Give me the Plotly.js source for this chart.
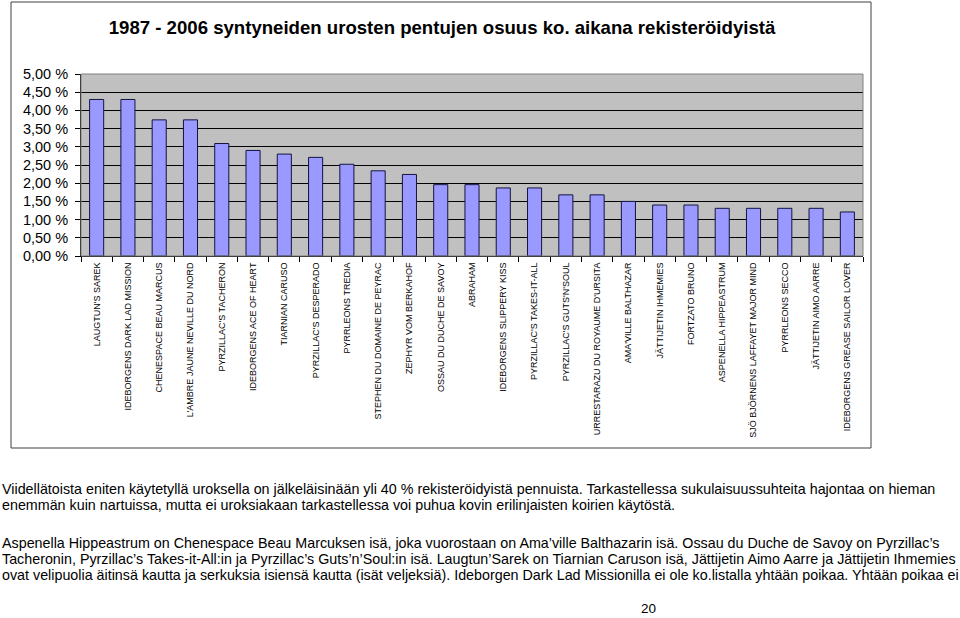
<!DOCTYPE html>
<html>
<head>
<meta charset="utf-8">
<script src="https://cdn.plot.ly/plotly-3.0.1.min.js"></script>
<style>html,body{margin:0;padding:0;background:#fff;}#chart{width:960px;height:618px;}</style>
</head>
<body>
<div id="chart"></div>
<script>
const titleText = "1987 - 2006 syntyneiden urosten pentujen osuus ko. aikana rekisteröidyistä";
const sires = [
  "LAUGTUN'S SAREK", "IDEBORGENS DARK LAD MISSION", "CHENESPACE BEAU MARCUS",
  "L'AMBRE JAUNE NEVILLE DU NORD", "PYRZILLAC'S TACHERON", "IDEBORGENS ACE OF HEART",
  "TIARNIAN CARUSO", "PYRZILLAC'S DESPERADO", "PYRRLEONS TREDIA",
  "STEPHEN DU DOMAINE DE PEYRAC", "ZEPHYR VOM BERKAHOF", "OSSAU DU DUCHE DE SAVOY",
  "ABRAHAM", "IDEBORGENS SLIPPERY KISS", "PYRZILLAC'S TAKES-IT-ALL",
  "PYRZILLAC'S GUTS'N'SOUL", "URRESTARAZU DU ROYAUME D'URSITA", "AMA'VILLE BALTHAZAR",
  "JÄTTIJETIN IHMEMIES", "FORTZATO BRUNO", "ASPENELLA HIPPEASTRUM",
  "SJÖ BJÖRNENS LAFFAYET MAJOR MIND", "PYRRLEONS SECCO", "JÄTTIJETIN AIMO AARRE",
  "IDEBORGENS GREASE SAILOR LOVER"
];
const sharePct = [
  4.30, 4.30, 3.74, 3.74, 3.09, 2.90, 2.80, 2.71, 2.52,
  2.34, 2.24, 1.96, 1.96, 1.87, 1.87, 1.68, 1.68, 1.50,
  1.40, 1.40, 1.31, 1.31, 1.31, 1.31, 1.21
];
const yTickVals = [0, 0.5, 1, 1.5, 2, 2.5, 3, 3.5, 4, 4.5, 5];
const yTickText = ["0,00 %", "0,50 %", "1,00 %", "1,50 %", "2,00 %", "2,50 %", "3,00 %", "3,50 %", "4,00 %", "4,50 %", "5,00 %"];
const bodyLines = [
  "Viidellätoista eniten käytetyllä uroksella on jälkeläisinään yli 40 % rekisteröidyistä pennuista. Tarkastellessa sukulaisuussuhteita hajontaa on hieman",
  "enemmän kuin nartuissa, mutta ei uroksiakaan tarkastellessa voi puhua kovin erilinjaisten koirien käytöstä.",
  "Aspenella Hippeastrum on Chenespace Beau Marcuksen isä, joka vuorostaan on Ama’ville Balthazarin isä. Ossau du Duche de Savoy on Pyrzillac’s",
  "Tacheronin, Pyrzillac’s Takes-it-All:in ja Pyrzillac’s Guts’n’Soul:in isä. Laugtun’Sarek on Tiarnian Caruson isä, Jättijetin Aimo Aarre ja Jättijetin Ihmemies",
  "ovat velipuolia äitinsä kautta ja serkuksia isiensä kautta (isät veljeksiä). Ideborgen Dark Lad Missionilla ei ole ko.listalla yhtään poikaa. Yhtään poikaa ei"
];
const pageNumber = "20";

// pixel geometry of plot area
const PL = 81, PR = 863, PT = 74, PB = 256;
const px2x = p => (p - PL) / (PR - PL);
const px2y = p => (PB - p) / (PB - PT);
const lineY = [489, 505, 543, 559, 575];
const FONT = 'Liberation Sans, Arial, sans-serif';

const annotations = bodyLines.map((t, i) => ({
  text: t, xref: 'paper', yref: 'paper', x: px2x(0), y: px2y(lineY[i]),
  xanchor: 'left', yanchor: 'middle', showarrow: false,
  font: {family: FONT, size: 14.3, color: '#000'}
}));
annotations.push({
  text: pageNumber, xref: 'paper', yref: 'paper', x: px2x(648), y: px2y(608),
  xanchor: 'center', yanchor: 'middle', showarrow: false,
  font: {family: FONT, size: 13.5, color: '#000'}
});

const data = [{
  type: 'bar', x: sires, y: sharePct,
  marker: {color: '#9999FF', line: {color: '#141440', width: 1}},
  hoverinfo: 'x+y'
}];

const layout = {
  width: 960, height: 618,
  margin: {l: PL, r: 960 - PR, t: PT, b: 618 - PB, pad: 0},
  paper_bgcolor: '#ffffff', plot_bgcolor: '#C0C0C0',
  font: {family: FONT, color: '#000'},
  title: {
    text: '<b>' + titleText + '</b>', xref: 'container', yref: 'container',
    x: 442 / 960, y: 1 - 27 / 618, xanchor: 'center', yanchor: 'middle',
    font: {family: FONT, size: 18.6, color: '#000'}
  },
  bargap: 0.55,
  showlegend: false,
  xaxis: {
    type: 'category', tickangle: -90, tickson: 'boundaries',
    ticks: 'outside', ticklen: 5, tickcolor: '#000', tickwidth: 1,
    showline: true, linecolor: '#000', linewidth: 1,
    showgrid: false, zeroline: false,
    tickfont: {family: FONT, size: 9, color: '#000'},
    ticklabelstandoff: 2
  },
  yaxis: {
    range: [0, 5], tickmode: 'array', tickvals: yTickVals, ticktext: yTickText,
    ticks: 'outside', ticklen: 5, tickcolor: '#000',
    showline: true, linecolor: '#000', linewidth: 1,
    showgrid: true, gridcolor: '#000', gridwidth: 1, zeroline: false,
    tickfont: {family: FONT, size: 14.5, color: '#000'},
    ticklabelstandoff: 4
  },
  shapes: [
    {type: 'rect', xref: 'paper', yref: 'paper', x0: 0, x1: 1, y0: 0, y1: 1,
     line: {color: '#808080', width: 1}, layer: 'above'},
    {type: 'rect', xref: 'paper', yref: 'paper', x0: px2x(11), x1: px2x(871), y0: px2y(448), y1: px2y(2),
     line: {color: '#404040', width: 1}, layer: 'below'}
  ],
  annotations: annotations
};

Plotly.newPlot('chart', data, layout, {staticPlot: true, displayModeBar: false});
</script>
</body>
</html>
